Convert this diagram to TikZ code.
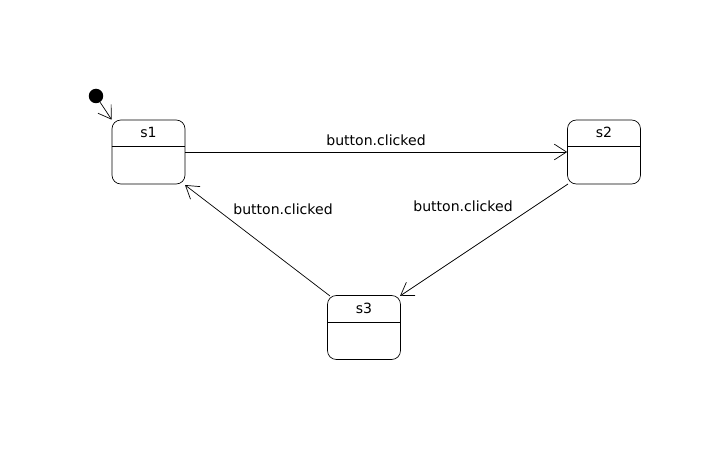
\documentclass[tikz,border=0pt]{standalone}
\usepackage{fontspec}
\setmainfont{DejaVu Sans}
\usetikzlibrary{arrows.meta, calc, positioning}
\tikzset{
  state/.style={draw, rounded corners=5pt, minimum width=1.46cm, minimum height=1.28cm, inner sep=0pt},
  sname/.style={font=\fontsize{8}{9}\selectfont, inner sep=1pt},
  elabel/.style={font=\fontsize{8}{9}\selectfont, inner sep=1pt},
  trans/.style={-{Straight Barb[length=7pt, width=9pt]}}
}
\begin{document}
\begin{tikzpicture}[x=0.02cm, y=-0.02cm]
\useasboundingbox (0,0) rectangle (728,449);
% Zustände
\node[state] (s1) at (148.5,152) {};
\node[state] (s2) at (604,152) {};
\node[state] (s3) at (364,327.5) {};
\foreach \s/\t in {s1/s1, s2/s2, s3/s3} {
  \draw ($(\s.north west)+(0,27)$) -- ($(\s.north east)+(0,27)$);
  \node[sname] (\s name) at ($(\s.north)+(0,13)$) {\t};
}
% Startzustand
\node[circle, fill, inner sep=0pt, minimum size=0.29cm] (init) at (96,96) {};
\draw[trans] (init) -- (s1.north west);
% Übergänge
\draw[trans] (s1.east) -- (s2.west);
\coordinate (a2) at (568,184);
\coordinate (a3) at (400,296);
\coordinate (b3) at (330,296);
\coordinate (b1) at (185,185);
\draw[trans] (a2) -- (a3);
\draw[trans] (b3) -- (b1);
\node[elabel] (l12) at (376,140) {button.clicked};
\node[elabel] (l23) at (463,206) {button.clicked};
\node[elabel] (l31) at (283,209) {button.clicked};
\end{tikzpicture}
\end{document}
